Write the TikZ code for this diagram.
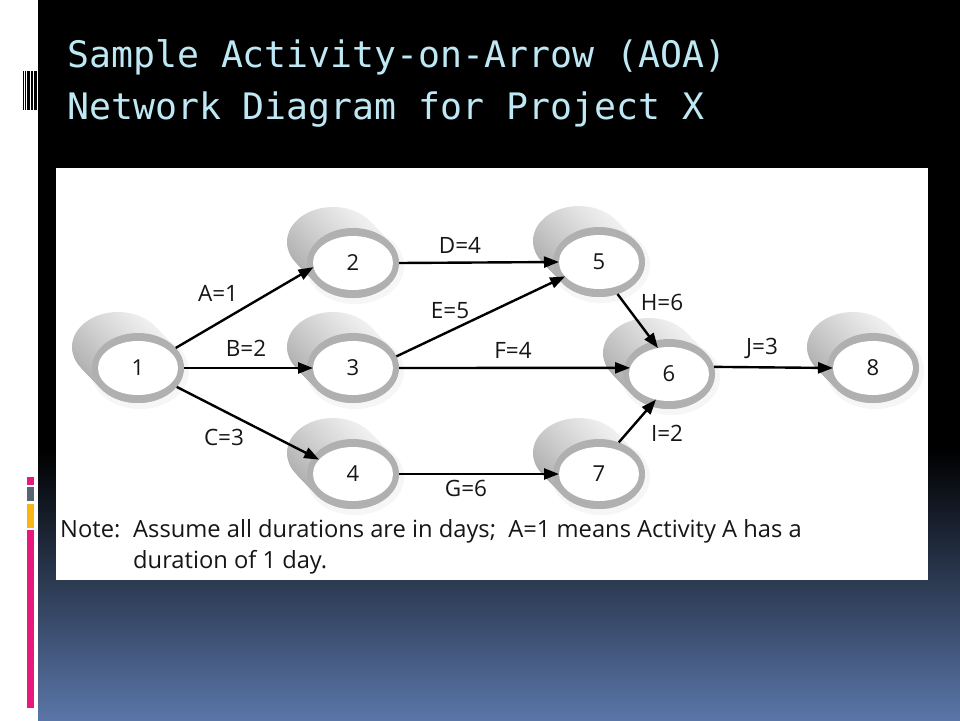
\documentclass[tikz,border=0pt]{standalone}
\usepackage{fontspec}
\setmainfont{Open Sans}
\newfontfamily\titlefont{DejaVu Sans Mono}
\usetikzlibrary{shapes.geometric,arrows.meta,calc}
\definecolor{titlecyan}{HTML}{BFE8F5}
\definecolor{bgblue}{RGB}{90,118,168}
\definecolor{bgmid}{RGB}{42,55,80}
\definecolor{barpink}{HTML}{E8197D}
\definecolor{bargray}{HTML}{5A6370}
\definecolor{baryellow}{HTML}{F8B614}
\definecolor{ringgray}{RGB}{176,176,176}
\definecolor{inkgray}{RGB}{22,22,22}
\tikzset{
  ringnode/.style={ellipse, fill=ringgray, minimum width=92pt, minimum height=70pt, inner sep=0pt, outer sep=0pt, draw=none},
  facenode/.style={ellipse, fill=white, minimum width=80pt, minimum height=54pt, inner sep=0pt, outer sep=0pt, font=\fontsize{22}{22}\selectfont, text=inkgray},
  act/.style={line width=2.4pt, draw=black, -{Triangle[length=15pt,width=11pt]}},
  lbl/.style={font=\fontsize{22.5}{22.5}\selectfont, text=inkgray, inner sep=0pt},
  notetext/.style={anchor=base west, inner sep=0pt, font=\fontsize{23.7}{23.7}\selectfont, text=inkgray},
  titletext/.style={anchor=base west, inner sep=0pt, font=\titlefont\fontsize{36.5}{36.5}\selectfont, text=titlecyan},
}
\newcommand{\aoanode}[3]{%
  \fill[gray!7] (#2+2,#3+3) ellipse [x radius=49pt, y radius=38pt];
  \foreach \k in {0,...,10}{
    \shade[top color=gray!12, bottom color=gray!62, shading angle=-40]
      ($(#2,#3)+({-20*(1-\k/10)},{-21*(1-\k/10)})$) ellipse [x radius=46pt, y radius=35pt];
  }
  \node[ringnode] (o#1) at (#2,#3) {};
  \node[facenode] (w#1) at (#2,#3) {#1};
}
\begin{document}
\begin{tikzpicture}[x=1pt,y=-1pt]
\useasboundingbox (0,0) rectangle (960,720);
% background
\fill[white] (0,0) rectangle (960,720);
\fill[black] (38,0) rectangle (960,451);
\shade[top color=black, middle color=bgmid, bottom color=bgblue] (38,450) rectangle (960,720);
% barcode mark
\foreach \a/\b in {22.7/24, 25/25.7, 26.7/27.3, 28/30, 31/31.7, 32.3/33.3, 34.3/36.7}{
  \fill[black] (\a,71) rectangle (\b,110);
}
% coloured bars
\fill[barpink] (27,477) rectangle (34,485);
\fill[bargray] (27,487) rectangle (34,501);
\fill[baryellow] (27,504) rectangle (34,528);
\fill[barpink] (27,530) rectangle (34,708);
% title
\node[titletext] (t1) at (67,67) {Sample Activity-on-Arrow (AOA)};
\node[titletext] (t2) at (67,119) {Network Diagram for Project X};
% panel
\fill[white] (56,168) rectangle (928,580);
% nodes
\aoanode{1}{138}{368}
\aoanode{2}{353}{263}
\aoanode{3}{353}{368}
\aoanode{4}{353}{474}
\aoanode{5}{599}{262}
\aoanode{6}{669}{374}
\aoanode{7}{599}{474}
\aoanode{8}{873}{368}
% activities
\draw[act] (o1.28) -- (w2.186);
\draw[act] (o1.0) -- (w3.180);
\draw[act] (o1.-26) -- (w4.157);
\draw[act] (o2.0) -- (w5.180);
\draw[act] (o3.15) -- (w5.203);
\draw[act] (o3.0) -- (w6.171);
\draw[act] (o5.-60) -- (w6.113);
\draw[act] (o7.58) -- (w6.243);
\draw[act] (o6.9) -- (w8.180);
\draw[act] (o4.0) -- (w7.180);
% labels
\node[lbl] (lA) at (218,293) {A=1};
\node[lbl] (lB) at (246,348) {B=2};
\node[lbl] (lC) at (224,437) {C=3};
\node[lbl] (lD) at (460,245) {D=4};
\node[lbl] (lE) at (450,311) {E=5};
\node[lbl] (lF) at (513,350) {F=4};
\node[lbl] (lH) at (662,302) {H=6};
\node[lbl] (lI) at (667,433) {I=2};
\node[lbl] (lJ) at (762,348) {J=3};
\node[lbl] (lG) at (466,488) {G=6};
% note
\node[notetext] (nt) at (60,537) {Note:};
\node[notetext] (n1) at (133,537) {Assume all durations are in days;\ \ A=1 means Activity A has a};
\node[notetext] (n2) at (133,568) {duration of 1 day.};
\end{tikzpicture}
\end{document}
